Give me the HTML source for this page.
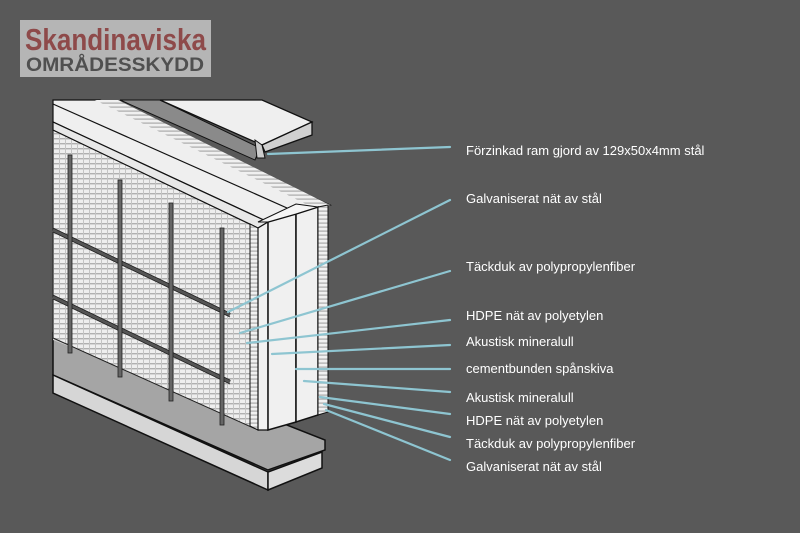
<!DOCTYPE html>
<html><head><meta charset="utf-8"><style>
html,body{margin:0;padding:0;background:#595959;}
svg{display:block}
text{font-family:"Liberation Sans",sans-serif;}
</style></head><body>
<svg width="800" height="533" viewBox="0 0 800 533" xmlns="http://www.w3.org/2000/svg">
<defs>
<pattern id="mesh" width="6" height="5" patternUnits="userSpaceOnUse">
<rect width="6" height="5" fill="#eeeeee"/>
<rect x="0" y="3" width="6" height="1.4" fill="#b0b0b0"/>
<rect x="5" y="0" width="1" height="5" fill="#c4c4c4"/>
</pattern>
<pattern id="hatch" width="8" height="4" patternUnits="userSpaceOnUse">
<rect width="8" height="4" fill="#f0f0f0"/>
<rect x="0" y="2.5" width="8" height="1.2" fill="#aaa"/>
</pattern>
</defs>
<rect width="800" height="533" fill="#595959"/>
<!-- logo -->
<rect x="20" y="20" width="191" height="57" fill="#b5b5b5"/>
<text x="25" y="50" font-size="31" font-weight="bold" fill="#8e4a4a" textLength="181" lengthAdjust="spacingAndGlyphs">Skandinaviska</text>
<text x="26" y="71" font-size="19" font-weight="bold" fill="#505050" textLength="178" lengthAdjust="spacingAndGlyphs">OMRÅDESSKYDD</text>

<!-- bottom channel -->
<polygon points="53,333 325,440 325,450 268,470 53,375" fill="#a5a5a5" stroke="#111" stroke-width="1.5"/>
<polygon points="53,375 268,472 268,490 53,393" fill="#d6d6d6" stroke="#111" stroke-width="1.5"/>
<polygon points="268,472 322,452 322,468 268,490" fill="#dcdcdc" stroke="#111" stroke-width="1.5"/>
<polygon points="53,333 250,410 250,418 53,340" fill="#cfcfcf"/>

<!-- back top surface of layers -->
<polygon points="53,100 100,100 330,205 318,207 268,222 53,122" fill="#efefef" stroke="#111" stroke-width="1.2"/>
<polygon points="95,100 118,100 330,205 318,210" fill="url(#hatch)"/>
<line x1="53" y1="104" x2="296" y2="212" stroke="#111" stroke-width="1.2"/>
<!-- front mesh face -->
<polygon points="53,130 258,228 258,430 53,338" fill="url(#mesh)" stroke="#222" stroke-width="1"/>
<polygon points="53,130 258,228 268,222 53,122" fill="#e8e8e8" stroke="#111" stroke-width="1.2"/>
<!-- horizontal bars -->
<g stroke="#555" stroke-width="4">
<line x1="53" y1="230" x2="230" y2="315"/>
<line x1="53" y1="297" x2="230" y2="382"/>
</g>
<g stroke="#222" stroke-width="0.8" fill="none">
<line x1="53" y1="228" x2="230" y2="313"/><line x1="53" y1="232" x2="230" y2="317"/>
<line x1="53" y1="295" x2="230" y2="380"/><line x1="53" y1="299" x2="230" y2="384"/>
</g>
<!-- vertical bars -->
<g fill="#666" stroke="#222" stroke-width="0.8">
<rect x="68" y="155" width="4" height="198"/>
<rect x="118" y="180" width="4" height="197"/>
<rect x="169" y="203" width="4" height="198"/>
<rect x="220" y="228" width="4" height="197"/>
</g>
<!-- side layers -->
<polygon points="250,224 258,228 258,430 250,426" fill="url(#hatch)" stroke="#111" stroke-width="1"/>
<polygon points="258,228 268,222 268,430 258,430" fill="#f2f2f2" stroke="#111" stroke-width="1.2"/>
<polygon points="268,222 296,214 296,422 268,430" fill="#f0f0f0" stroke="#111" stroke-width="1.5"/>
<polygon points="296,214 318,207 318,415 296,422" fill="#f0f0f0" stroke="#111" stroke-width="1.5"/>
<polygon points="318,207 328,205 328,412 318,415" fill="url(#hatch)" stroke="#111" stroke-width="1"/>
<polygon points="268,222 296,214 318,207 296,204 258,222" fill="#f5f5f5" stroke="#111" stroke-width="1"/>

<!-- top cap -->
<polygon points="120,100 160,100 260,148 255,160" fill="#8a8a8a" stroke="#111" stroke-width="1"/>
<polygon points="160,100 262,100 312,122 262,145" fill="#efefef" stroke="#111" stroke-width="1.3"/>
<polygon points="262,145 312,122 312,135 265,152" fill="#d0d0d0" stroke="#111" stroke-width="1.3"/>
<polygon points="255,140 262,145 265,158 257,158" fill="#ccc" stroke="#111" stroke-width="1"/>

<!-- leader lines -->
<g stroke="#8ec5d1" stroke-width="2.2" stroke-linecap="round">
<line x1="268" y1="154" x2="450" y2="147"/>
<line x1="228" y1="312" x2="450" y2="200"/>
<line x1="240" y1="333" x2="450" y2="271"/>
<line x1="247" y1="343" x2="450" y2="320"/>
<line x1="272" y1="354" x2="450" y2="345"/>
<line x1="296" y1="369" x2="450" y2="369"/>
<line x1="304" y1="381" x2="450" y2="392"/>
<line x1="320" y1="397" x2="450" y2="414"/>
<line x1="324" y1="404" x2="450" y2="437"/>
<line x1="326" y1="410" x2="450" y2="460"/>
</g>
<g fill="#fff" font-size="13">
<text x="466" y="155">Förzinkad ram gjord av 129x50x4mm stål</text>
<text x="466" y="203">Galvaniserat nät av stål</text>
<text x="466" y="271">Täckduk av polypropylenfiber</text>
<text x="466" y="320">HDPE nät av polyetylen</text>
<text x="466" y="346">Akustisk mineralull</text>
<text x="466" y="373">cementbunden  spånskiva</text>
<text x="466" y="402">Akustisk mineralull</text>
<text x="466" y="425">HDPE nät av polyetylen</text>
<text x="466" y="448">Täckduk av polypropylenfiber</text>
<text x="466" y="471">Galvaniserat nät av stål</text>
</g>
</svg>
</body></html>
